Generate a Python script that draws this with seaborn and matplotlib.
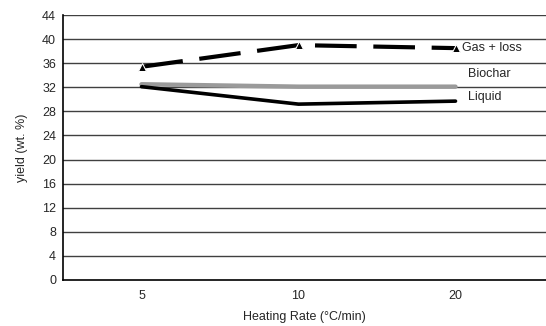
import matplotlib
matplotlib.use("Agg")
import matplotlib.pyplot as plt
import seaborn as sns
import pandas as pd

heating_rates = ["5", "10", "20"]
gas_loss = [35.4, 39.0, 38.5]
biochar = [32.5, 32.1, 32.1]
liquid = [32.1, 29.2, 29.7]
y_ticks = list(range(0, 45, 4))

sns.set_style("white")
plt.rcParams["font.family"] = ["Liberation Sans", "DejaVu Sans"]

pos = list(range(len(heating_rates)))
df = pd.DataFrame({
    "pos": pos * 3,
    "yield": gas_loss + biochar + liquid,
    "series": ["Gas + loss"] * 3 + ["Biochar"] * 3 + ["Liquid"] * 3,
})

fig = plt.figure(figsize=(5.46, 3.26), dpi=100)
ax = fig.add_axes([63 / 546, 1 - 280 / 326, 1 - 63 / 546, 265 / 326])

for y in y_ticks[1:]:
    ax.axhline(y, color="#404040", lw=1.0, zorder=1)

sns.lineplot(data=df[df.series == "Biochar"], x="pos", y="yield", ax=ax,
             color="#9a9a9a", lw=3.2, zorder=3, legend=False)
sns.lineplot(data=df[df.series == "Liquid"], x="pos", y="yield", ax=ax,
             color="black", lw=2.6, zorder=4, legend=False)
sns.lineplot(data=df[df.series == "Gas + loss"], x="pos", y="yield", ax=ax,
             color="black", lw=3.0, zorder=5, legend=False,
             marker="^", markersize=6, dashes=False)
ax.lines[-1].set_linestyle((0, (10, 4)))

ax.text(2.04, gas_loss[2], "Gas + loss", fontsize=9, va="center", ha="left", zorder=6)
ax.text(2.08, biochar[2] + 1.1, "Biochar", fontsize=9, va="bottom", ha="left")
ax.text(2.08, liquid[2] - 0.3, "Liquid", fontsize=9, va="bottom", ha="left")

ax.set_xlim(-0.5, 2.5 + 12 / 157)
ax.set_ylim(0, 44)
ax.set_yticks(y_ticks)
ax.set_yticklabels([str(v) for v in y_ticks], fontsize=9)
ax.set_xticks(pos)
ax.set_xticklabels(heating_rates, fontsize=9)
ax.set_xticks([-0.5, 0.5, 1.5, 2.5], minor=True)
ax.tick_params(axis="x", which="major", length=0, pad=7)
ax.tick_params(axis="x", which="minor", length=4, width=1, color="black", direction="out")
ax.tick_params(axis="y", length=4, width=1, color="black", direction="out", pad=1)

for side in ["top", "right"]:
    ax.spines[side].set_visible(False)
ax.spines["left"].set_color("black")
ax.spines["bottom"].set_color("black")
ax.spines["left"].set_linewidth(1.2)
ax.spines["bottom"].set_linewidth(1.2)

ax.set_xlabel("Heating Rate (\u00b0C/min)", fontsize=9, labelpad=7)
ax.set_ylabel("yield (wt. %)", fontsize=9, labelpad=10)

fig.savefig("out.png", dpi=100)
